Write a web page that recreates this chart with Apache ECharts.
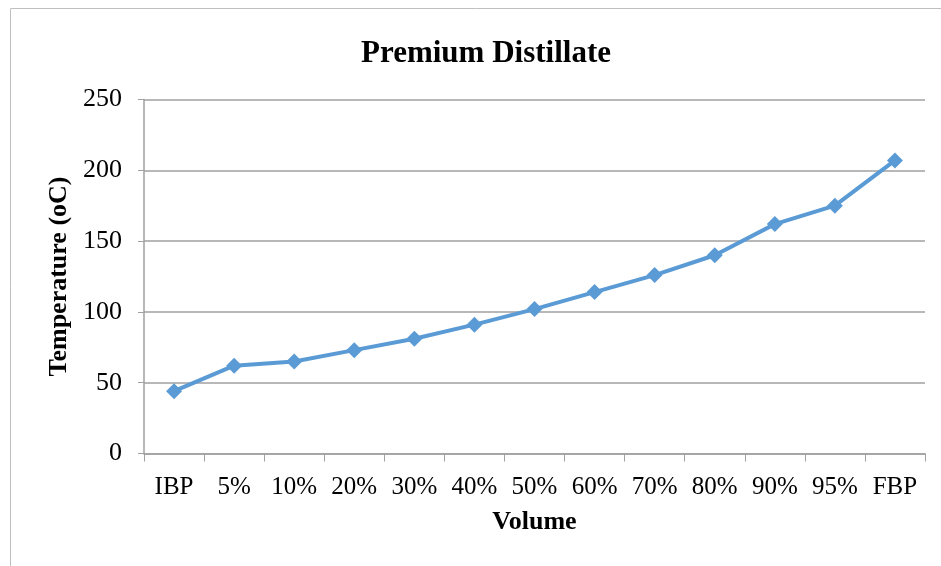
<!DOCTYPE html>
<html>
<head>
    <meta charset="UTF-8" />
    <title>Premium Distillate</title>
    <script src="https://cdn.jsdelivr.net/npm/echarts@6/dist/echarts.min.js"></script>
    <style>
        body { margin: 0; background: #fff; }
        #chart { width: 941px; height: 566px; }
    </style>
</head>
<body>
    <div id="chart"></div>
    <script type="text/javascript">
        // data
        const volumes = ['IBP', '5%', '10%', '20%', '30%', '40%', '50%', '60%', '70%', '80%', '90%', '95%', 'FBP'];
        const temperatures = [44, 62, 65, 73, 81, 91, 102, 114, 126, 140, 162, 175, 207];
        const yTicks = [0, 50, 100, 150, 200, 250];

        const serif = '"Liberation Serif", "Times New Roman", serif';
        const grey = '#a0a0a0';

        let chart = echarts.init(document.getElementById('chart'));
        let option = {
            animation: false,
            graphic: [{
                type: 'rect',
                shape: { x: 10.5, y: 8.5, width: 940, height: 570 },
                style: { fill: 'none', stroke: '#bfbfbf', lineWidth: 1 }
            }],
            title: {
                text: 'Premium Distillate',
                left: 481,
                top: 33,
                textAlign: 'center',
                textStyle: { fontFamily: serif, fontSize: 31, fontWeight: 'bold', color: '#000' }
            },
            grid: { left: 144, right: 16, top: 99.5, bottom: 112.5 },
            xAxis: {
                type: 'category',
                data: volumes,
                boundaryGap: true,
                name: 'Volume',
                nameLocation: 'middle',
                nameGap: 56,
                nameTextStyle: { fontFamily: serif, fontSize: 26, fontWeight: 'bold', color: '#000' },
                axisLine: { lineStyle: { color: grey, width: 1.5 } },
                axisTick: { show: true, alignWithLabel: false, length: 8, lineStyle: { color: grey } },
                axisLabel: { fontFamily: serif, fontSize: 25, color: '#000', margin: 21, interval: 0 }
            },
            yAxis: {
                type: 'value',
                min: yTicks[0],
                max: yTicks[yTicks.length - 1],
                interval: 50,
                name: 'Temperature (oC)',
                nameLocation: 'middle',
                nameGap: 71,
                nameTextStyle: { fontFamily: serif, fontSize: 26, fontWeight: 'bold', color: '#000' },
                axisLine: { show: true, lineStyle: { color: grey, width: 1.5 } },
                axisTick: { show: true, length: 6, lineStyle: { color: grey } },
                axisLabel: { fontFamily: serif, fontSize: 26, color: '#000', margin: 22 },
                splitLine: { lineStyle: { color: grey, width: 1.5 } }
            },
            series: [{
                type: 'line',
                data: temperatures,
                symbol: 'diamond',
                symbolSize: 16,
                lineStyle: { color: '#5b9bd5', width: 4 },
                itemStyle: { color: '#5b9bd5' }
            }]
        };
        chart.setOption(option);
    </script>
</body>
</html>
